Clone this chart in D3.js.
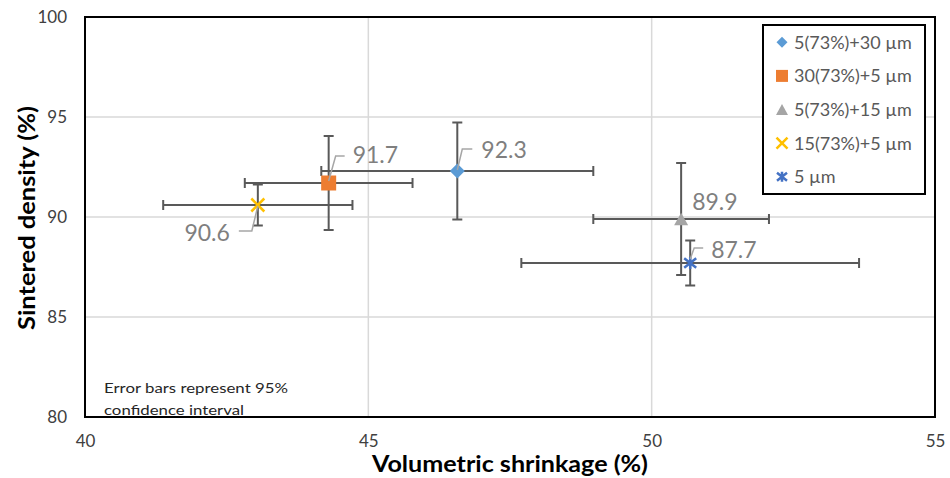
<!DOCTYPE html>
<html>
<head>
<meta charset="utf-8">
<script src="https://cdn.jsdelivr.net/npm/d3@7"></script>
<style>
  html, body { margin: 0; padding: 0; background: #fff; }
  svg { display: block; font-family: Lato, "Open Sans", sans-serif; }
</style>
</head>
<body>
<svg id="chart" width="950" height="478"></svg>
<script>
// Sintered density vs. volumetric shrinkage for five powder blends (mean ± 95% CI)
const seriesNames   = ["5(73%)+30 µm", "30(73%)+5 µm", "5(73%)+15 µm", "15(73%)+5 µm", "5 µm"];
const markerTypes   = ["diamond", "square", "triangle", "cross", "star"];
const seriesColors  = ["#5B9BD5", "#ED7D31", "#A5A5A5", "#FFC000", "#4472C4"];
const shrinkage     = [46.57, 44.30, 50.52, 43.05, 50.68];
const shrinkageErr  = [2.40, 1.48, 1.55, 1.67, 2.98];
const density       = [92.3, 91.7, 89.9, 90.6, 87.7];
const densityErr    = [2.42, 2.35, 2.80, 1.03, 1.12];
const xTicks = [40, 45, 50, 55];
const yTicks = [80, 85, 90, 95, 100];

// Data-label placement relative to each point: text offset, anchor, leader polyline (px)
const labelLayout = [
  { dx: 24, dy: -13, anchor: "start", leader: [[0, -1], [5, -22], [15, -22]] },
  { dx: 24, dy: -20, anchor: "start", leader: [[0, -2], [7, -27], [16, -27]] },
  { dx: 11, dy: -9,  anchor: "start", leader: null },
  { dx: -28, dy: 36, anchor: "end",   leader: [[0, 1], [-6, 26], [-19, 26]] },
  { dx: 21, dy: -5,  anchor: "start", leader: [[0, -4], [4, -15], [13, -15]] }
];

const svg = d3.select("#chart");
const plot = { left: 85, right: 935, top: 17, bottom: 417 };

const x = d3.scaleLinear().domain([40, 55]).range([plot.left, plot.right]);
const y = d3.scaleLinear().domain([80, 100]).range([plot.bottom, plot.top]);

// Gridlines
svg.append("g").selectAll("line.gy").data(yTicks.slice(1, -1)).join("line")
  .attr("x1", plot.left).attr("x2", plot.right)
  .attr("y1", d => y(d)).attr("y2", d => y(d))
  .attr("stroke", "#d9d9d9").attr("stroke-width", 1.5);
svg.append("g").selectAll("line.gx").data(xTicks.slice(1, -1)).join("line")
  .attr("y1", plot.top).attr("y2", plot.bottom)
  .attr("x1", d => x(d)).attr("x2", d => x(d))
  .attr("stroke", "#d9d9d9").attr("stroke-width", 1.5);

// Axes (labels only, the frame draws the box)
const xAxis = d3.axisBottom(x).tickValues(xTicks).tickSize(0).tickPadding(18);
const yAxis = d3.axisLeft(y).tickValues(yTicks).tickSize(0).tickPadding(18);
const gx = svg.append("g").attr("transform", `translate(0,${plot.bottom})`).call(xAxis);
const gy = svg.append("g").attr("transform", `translate(${plot.left},0)`).call(yAxis);
[gx, gy].forEach(g => {
  g.select(".domain").remove();
  g.selectAll("text").attr("font-family", "Lato, sans-serif").attr("font-size", 17).attr("fill", "#404040");
});

// Plot frame
svg.append("rect")
  .attr("x", plot.left).attr("y", plot.top)
  .attr("width", plot.right - plot.left).attr("height", plot.bottom - plot.top)
  .attr("fill", "none").attr("stroke", "#000").attr("stroke-width", 2);

// Axis titles
svg.append("text")
  .attr("x", 510).attr("y", 472).attr("text-anchor", "middle")
  .attr("font-size", 22).attr("font-weight", "bold").attr("fill", "#000")
  .attr("textLength", 276).attr("lengthAdjust", "spacingAndGlyphs")
  .text("Volumetric shrinkage (%)");
svg.append("text")
  .attr("transform", "translate(35,218) rotate(-90)").attr("text-anchor", "middle")
  .attr("font-size", 22).attr("font-weight", "bold").attr("fill", "#000")
  .attr("textLength", 224).attr("lengthAdjust", "spacingAndGlyphs")
  .text("Sintered density (%)");

// Note
const note = svg.append("g").attr("font-size", 14).attr("fill", "#262626");
note.append("text").attr("x", 104).attr("y", 393)
  .attr("textLength", 184).attr("lengthAdjust", "spacingAndGlyphs")
  .text("Error bars represent 95%");
note.append("text").attr("x", 104).attr("y", 415)
  .attr("textLength", 140).attr("lengthAdjust", "spacingAndGlyphs")
  .text("confidence interval");

// Marker drawing
function marker(g, type, s, color) {
  const h = s / 2;
  if (type === "diamond") {
    g.append("path").attr("d", `M0,${-h}L${h},0L0,${h}L${-h},0Z`).attr("fill", color);
  } else if (type === "square") {
    g.append("rect").attr("x", -h).attr("y", -h).attr("width", s).attr("height", s).attr("fill", color);
  } else if (type === "triangle") {
    const th = s * 0.9;
    g.append("path").attr("d", `M0,${-th / 2}L${h},${th / 2}L${-h},${th / 2}Z`).attr("fill", color);
  } else if (type === "cross") {
    g.append("path").attr("d", `M${-h},${-h}L${h},${h}M${-h},${h}L${h},${-h}`)
      .attr("stroke", color).attr("stroke-width", 2.5).attr("fill", "none");
  } else if (type === "star") {
    g.append("path").attr("d", `M${-h},${-h * 0.8}L${h},${h * 0.8}M${-h},${h * 0.8}L${h},${-h * 0.8}M0,${-h}L0,${h}`)
      .attr("stroke", color).attr("stroke-width", 2.5).attr("fill", "none");
  }
}

const idx = d3.range(seriesNames.length);

// Error bars
const eb = svg.append("g").attr("stroke", "#595959").attr("stroke-width", 2).attr("fill", "none");
const cap = 5;
idx.forEach(i => {
  const cx = x(shrinkage[i]), cy = y(density[i]);
  const x0 = x(shrinkage[i] - shrinkageErr[i]), x1 = x(shrinkage[i] + shrinkageErr[i]);
  const y0 = y(density[i] - densityErr[i]), y1 = y(density[i] + densityErr[i]);
  eb.append("path").attr("d",
    `M${x0},${cy}H${x1}M${x0},${cy - cap}V${cy + cap}M${x1},${cy - cap}V${cy + cap}` +
    `M${cx},${y0}V${y1}M${cx - cap},${y0}H${cx + cap}M${cx - cap},${y1}H${cx + cap}`);
});

// Markers
const markerSize = [15, 15, 14, 13, 12];
idx.forEach(i => {
  const g = svg.append("g").attr("transform", `translate(${x(shrinkage[i])},${y(density[i])})`);
  marker(g, markerTypes[i], markerSize[i], seriesColors[i]);
});

// Data labels with leader lines
idx.forEach(i => {
  const cx = x(shrinkage[i]), cy = y(density[i]);
  const L = labelLayout[i];
  if (L.leader) {
    svg.append("path")
      .attr("d", d3.line()(L.leader.map(p => [cx + p[0], cy + p[1]])))
      .attr("fill", "none").attr("stroke", "#a6a6a6").attr("stroke-width", 1.5);
  }
  svg.append("text")
    .attr("x", cx + L.dx).attr("y", cy + L.dy)
    .attr("text-anchor", L.anchor)
    .attr("font-size", 23).attr("fill", "#7f7f7f")
    .text(d3.format(".1f")(density[i]));
});

// Legend
const legend = svg.append("g");
legend.append("rect")
  .attr("x", 763).attr("y", 25).attr("width", 162).attr("height", 169)
  .attr("fill", "#fff").attr("stroke", "#000").attr("stroke-width", 2);
const legendMarkerSize = [11, 12, 12, 11, 10];
idx.forEach(i => {
  const ry = 42.3 + i * 33.6;
  const g = legend.append("g").attr("transform", `translate(782,${ry})`);
  marker(g, markerTypes[i], legendMarkerSize[i], seriesColors[i]);
  legend.append("text")
    .attr("x", 794).attr("y", ry + 6.5)
    .attr("font-size", 18).attr("fill", "#595959")
    .text(seriesNames[i]);
});
</script>
</body>
</html>
